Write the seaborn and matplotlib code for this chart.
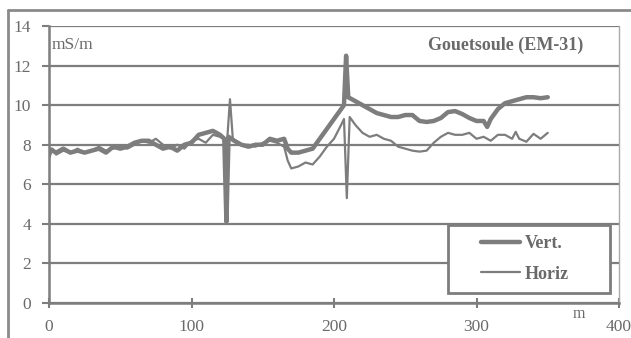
import matplotlib
matplotlib.use("Agg")
import matplotlib.pyplot as plt
import pandas as pd
import seaborn as sns
from matplotlib.lines import Line2D
from matplotlib.patches import Rectangle

# distance along profile (m) and apparent conductivity (mS/m)
vert_x = [0, 5, 10, 15, 20, 25, 30, 35, 40, 45, 50, 55, 60, 65, 70, 75, 80, 85, 90, 95,
          100, 105, 110, 115, 120, 123, 124.5, 126, 130, 135, 140, 145, 150, 155, 160, 165,
          167.5, 170, 175, 180, 185, 190, 195, 200, 205, 207, 208.5, 210, 212.5, 215, 220,
          225, 230, 235, 240, 245, 250, 255, 260, 265, 270, 275, 280, 285, 290, 295, 300,
          305, 307.5, 310, 315, 320, 325, 330, 335, 340, 345, 350]
vert_y = [7.8, 7.6, 7.8, 7.6, 7.7, 7.6, 7.7, 7.8, 7.6, 7.9, 7.8, 7.9, 8.1, 8.2, 8.2, 8.0,
          7.8, 7.9, 7.7, 8.0, 8.1, 8.5, 8.6, 8.7, 8.5, 8.3, 4.1, 8.4, 8.2, 8.0, 7.9, 8.0,
          8.0, 8.3, 8.2, 8.3, 7.8, 7.6, 7.6, 7.7, 7.8, 8.3, 8.8, 9.3, 9.8, 10.0, 12.5, 10.4,
          10.3, 10.2, 10.0, 9.8, 9.6, 9.5, 9.4, 9.4, 9.5, 9.5, 9.2, 9.15, 9.2, 9.35, 9.65,
          9.7, 9.55, 9.35, 9.2, 9.2, 8.9, 9.3, 9.8, 10.1, 10.2, 10.3, 10.4, 10.4, 10.35, 10.4]

horiz_x = [0, 2.5, 5, 10, 15, 20, 25, 30, 35, 40, 45, 50, 55, 60, 65, 70, 75, 80, 85, 90,
           95, 100, 105, 110, 115, 120, 125, 127, 129, 135, 140, 145, 150, 155, 160, 165,
           167.5, 170, 175, 180, 185, 190, 195, 200, 205, 207, 209, 211, 215, 220, 225,
           230, 235, 240, 245, 250, 255, 260, 265, 270, 275, 280, 285, 290, 295, 300, 305,
           310, 315, 320, 325, 327.5, 330, 335, 340, 345, 350]
horiz_y = [7.3, 7.8, 7.5, 7.7, 7.6, 7.8, 7.6, 7.7, 7.9, 7.7, 7.8, 7.9, 7.8, 8.0, 8.2, 8.1,
           8.3, 8.0, 7.8, 8.0, 7.8, 8.2, 8.3, 8.1, 8.5, 8.4, 8.2, 10.3, 8.3, 8.0, 8.0, 7.9,
           8.1, 8.2, 8.1, 7.9, 7.2, 6.8, 6.9, 7.1, 7.0, 7.4, 7.9, 8.3, 9.0, 9.3, 5.3, 9.4,
           9.0, 8.6, 8.4, 8.5, 8.3, 8.2, 7.9, 7.8, 7.7, 7.65, 7.7, 8.1, 8.4, 8.6, 8.5, 8.5,
           8.6, 8.3, 8.4, 8.2, 8.5, 8.5, 8.3, 8.65, 8.3, 8.15, 8.55, 8.3, 8.6]

series_names = ["Vert.", "Horiz"]

df = pd.concat([
    pd.DataFrame({"m": vert_x, "mS/m": vert_y, "Serie": series_names[0]}),
    pd.DataFrame({"m": horiz_x, "mS/m": horiz_y, "Serie": series_names[1]}),
])

gray = "#7d7d7d"
txt = "#6a6a6a"
sns.set_style("white")
plt.rcParams["font.family"] = ["Liberation Serif", "DejaVu Serif"]

fig = plt.figure(figsize=(6.31, 3.38), dpi=100)
ax = fig.add_axes([49 / 631, 35 / 338, 570 / 631, 277 / 338])

sns.lineplot(data=df, x="m", y="mS/m", hue="Serie", size="Serie",
             sizes={"Vert.": 3.2, "Horiz": 1.6},
             palette={"Vert.": gray, "Horiz": gray},
             sort=False, estimator=None, legend=False, ax=ax, zorder=3)

ax.set_xlim(0, 400)
ax.set_ylim(0, 14)
ax.set_xticks([0, 100, 200, 300, 400])
ax.set_yticks(range(0, 15, 2))
ax.grid(axis="y", color=gray, linewidth=1.6)
ax.grid(axis="x", visible=False)
ax.set_xlabel("")
ax.set_ylabel("")

for side in ["left", "bottom"]:
    ax.spines[side].set_color(gray)
    ax.spines[side].set_linewidth(1.8)
ax.spines["top"].set_visible(False)
ax.spines["right"].set_color("#aaaaaa")
ax.spines["right"].set_linewidth(1.0)

ax.tick_params(axis="y", direction="out", length=5, width=1.5, color=gray,
               labelsize=12.5, labelcolor=txt, pad=8)
ax.tick_params(axis="x", direction="inout", length=7, width=1.5, color=gray,
               labelsize=12.5, labelcolor=txt, pad=8)
ax.tick_params(left=True, bottom=True)

ax.text(2, 13.45, "mS/m", fontsize=12.5, color=txt, va="top", ha="left")
ax.text(375, 13.45, "Gouetsoule (EM-31)", fontsize=13, fontweight="bold",
        color=txt, va="top", ha="right")
ax.text(372, -0.15, "m", fontsize=11.5, color=txt, va="top", ha="center")

# legend box
ax.add_patch(Rectangle((0.700, 0.036), 0.284, 0.246, transform=ax.transAxes,
                       facecolor="white", edgecolor=gray, linewidth=2.0, zorder=5))
handles = [Line2D([], [], color=gray, linewidth=3.2),
           Line2D([], [], color=gray, linewidth=1.6)]
leg = ax.legend(handles, series_names, loc="center",
                bbox_to_anchor=(0.835, 0.159), frameon=False,
                fontsize=13, handlelength=2.2, labelspacing=0.75,
                borderpad=0, handletextpad=0.25)
leg.set_zorder(6)
for t in leg.get_texts():
    t.set_color(txt)
    t.set_fontweight("bold")

# outer frame of the scanned figure
fig.add_artist(Line2D([8 / 631, 1], [1 - 10 / 338, 1 - 10 / 338],
                      transform=fig.transFigure, color="#8a8a8a", linewidth=2))
fig.add_artist(Line2D([8 / 631, 8 / 631], [0, 1 - 10 / 338],
                      transform=fig.transFigure, color="#8a8a8a", linewidth=2))

fig.savefig("out.png", dpi=100)
